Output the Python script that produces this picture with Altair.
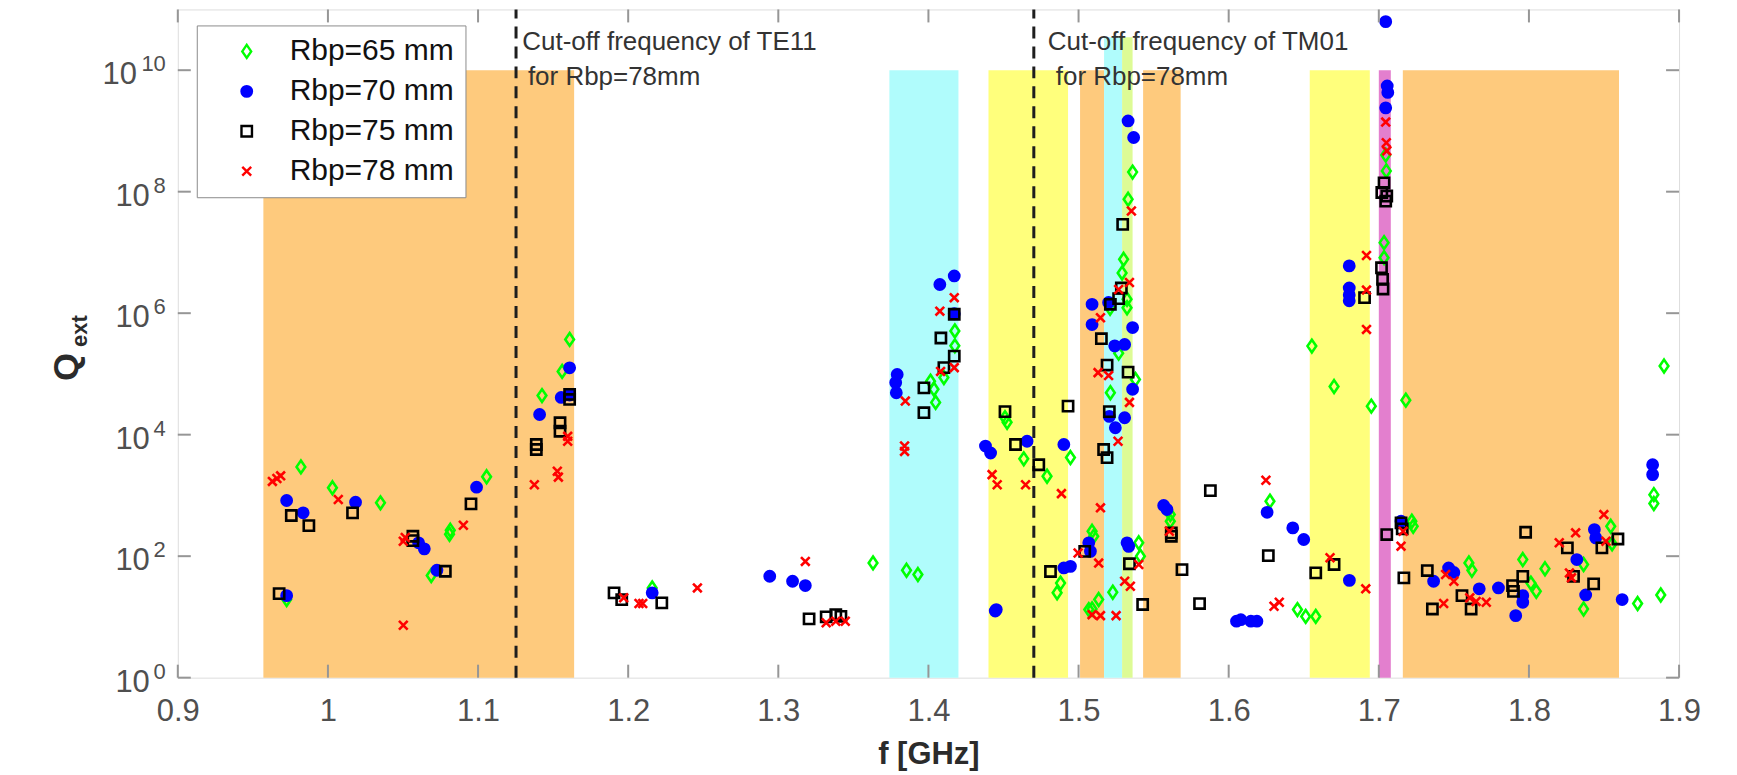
import altair as alt
import pandas as pd

# ---------------- data ----------------
series_names = ["Rbp=65 mm", "Rbp=70 mm", "Rbp=75 mm", "Rbp=78 mm"]

f65 = [0.982, 0.9725, 1.003, 1.035, 1.0688, 1.0815, 1.081, 1.1057, 1.1426, 1.156, 1.161,
       1.216, 1.3631, 1.3854, 1.393,
       1.4014, 1.4037, 1.4048, 1.4103, 1.4176, 1.4176,
       1.4524, 1.451, 1.4635, 1.479, 1.4946, 1.488, 1.4857,
       1.536, 1.533, 1.530, 1.529, 1.5323, 1.5323, 1.521, 1.5267, 1.5379, 1.5212,
       1.509, 1.5101, 1.5401, 1.5412, 1.5228, 1.5134, 1.5068, 1.509,
       1.5611, 1.5611,
       1.6275, 1.6458, 1.6513, 1.658,
       1.6554, 1.6702, 1.695, 1.718,
       1.7046, 1.705, 1.7035, 1.7035,
       1.722, 1.7229,
       1.760, 1.762, 1.7959, 1.8013, 1.8049, 1.8107, 1.8364, 1.8364, 1.8545, 1.8554,
       1.8724, 1.8878, 1.8832, 1.8832, 1.890]
q65 = [2950, 19.3, 1334, 755, 48, 267, 230, 2025, 4.4e4, 1.1e5, 3.7e5,
       30, 77.5, 58.6, 49.8,
       7.6e4, 5.6e4, 3.4e4, 8.7e4, 5.1e5, 2.9e5,
       1.6e4, 1.9e4, 4.0e3, 2.07e3, 4.2e3, 36, 25,
       2.1e8, 7.5e7, 7.7e6, 4.6e6, 1.23e6, 1.7e6, 1.2e6, 2.2e5, 8.1e4, 4.9e4,
       257, 213, 166, 100, 25.5, 19.3, 13.2, 13.5,
       484, 376,
       803, 13.2, 10.2, 10.2,
       2.87e5, 6.2e4, 2.95e4, 3.7e4,
       4e8, 2.2e8, 1.45e7, 8.2e6,
       376, 310,
       77.5, 58.6, 88, 36, 26.4, 62, 73, 13.5, 310, 160,
       16.6, 23, 1030, 735, 1.35e5]

f70 = [0.9725, 0.9835, 0.9725, 1.0184, 1.0604, 1.0642, 1.0726, 1.099,
       1.141, 1.1554, 1.161, 1.161,
       1.216, 1.2943, 1.3095, 1.318,
       1.3792, 1.3782, 1.3786, 1.4076, 1.4172, 1.4172,
       1.438, 1.4414, 1.4452, 1.4445, 1.4657, 1.4902, 1.4902, 1.4946,
       1.533, 1.5367, 1.509, 1.52, 1.509, 1.536, 1.5241, 1.5307, 1.536, 1.5205, 1.5245, 1.5307,
       1.5068, 1.5079, 1.5323, 1.5334,
       1.5567, 1.5589,
       1.6052, 1.6081, 1.6148, 1.6188,
       1.6256, 1.6427, 1.65, 1.6804,
       1.6803, 1.6803, 1.6803, 1.6803,
       1.7046, 1.7056, 1.706, 1.7046,
       1.7148,
       1.7365, 1.7465, 1.75, 1.7669, 1.7797, 1.7912, 1.7959, 1.7959, 1.8319, 1.8378,
       1.8436, 1.8445, 1.8621, 1.8824, 1.8824]
q70 = [824, 517, 22.4, 773, 166, 132, 58.6, 1367,
       2.15e4, 4.1e4, 4.5e4, 1.26e5,
       24.9, 46.7, 38.6, 32.8,
       9.8e4, 7.2e4, 4.9e4, 2.97e6, 4.1e6, 9.8e5,
       6.5e3, 5.0e3, 13.2, 12.5, 7.8e3, 6.9e3, 64, 68,
       1.46e9, 7.8e8, 1.4e6, 1.5e6, 6.5e5, 5.8e5, 2.9e5, 3.06e5, 5.6e4, 2e4, 1.3e4, 1.9e4,
       166, 120, 166, 145,
       682, 586,
       8.5, 9, 8.5, 8.5,
       527, 292, 188, 40,
       6e6, 2.6e6, 2e6, 1.6e6,
       6.3e10, 5.5e9, 4.3e9, 2.4e9,
       376,
       38.6, 64, 54, 29, 30, 10.5, 17.4, 22.4, 88, 23,
       274, 200, 19.3, 3.2e3, 2.2e3]

f75 = [0.9756, 0.9873, 0.9675, 1.0164, 1.0566, 1.0566, 1.0782, 1.0953,
       1.1388, 1.1388, 1.1546, 1.1546, 1.161, 1.161,
       1.1906, 1.1957, 1.2224, 1.3205, 1.3319, 1.3383, 1.3417,
       1.397, 1.397, 1.4083, 1.4172, 1.4172, 1.4103,
       1.451, 1.458, 1.4735, 1.493, 1.4813,
       1.5294, 1.5285, 1.5267, 1.5212, 1.5152, 1.519, 1.533, 1.5205, 1.5167, 1.519,
       1.5041, 1.5339,
       1.5618, 1.5618, 1.5878, 1.5689, 1.5806, 1.5427,
       1.6264, 1.658, 1.6702, 1.6905,
       1.7035, 1.702, 1.7053, 1.7046, 1.7018, 1.7025, 1.7028,
       1.7053, 1.7148, 1.7156,
       1.7167, 1.7323, 1.7357, 1.7554, 1.7615, 1.7891, 1.7897, 1.7959, 1.7978, 1.8256,
       1.8297, 1.8431, 1.8486, 1.8593]
q75 = [467, 319, 24.2, 517, 213, 180, 56.4, 727,
       6.9e3, 5.7e3, 1.57e4, 1.14e4, 4.6e4, 3.8e4,
       24.9, 19.3, 17, 9.3, 10, 10.9, 10.2,
       5.9e4, 2.3e4, 3.9e5, 9.6e5, 1.96e5, 1.27e5,
       2.4e4, 6.9e3, 3.2e3, 2.95e4, 56,
       2.9e7, 2.6e6, 1.74e6, 1.4e6, 3.8e5, 1.4e5, 1.07e5, 2.4e4, 5.7e3, 4.2e3,
       120, 75,
       242, 213, 1.2e3, 60, 16.6, 16,
       102, 53, 73, 1.8e6,
       1.4e8, 9.7e7, 8.5e7, 7e7, 5.6e6, 3.6e6, 2.5e6,
       227, 353, 282,
       44, 58, 13.5, 22.4, 13.5, 32.8, 26.4, 46.5, 248, 137,
       46.5, 35, 137, 192]

f78 = [0.963, 0.9685, 0.966, 1.0069, 1.0502, 1.0515, 1.0502, 1.0902,
       1.1375, 1.1528, 1.1535, 1.1597, 1.1597,
       1.197, 1.2072, 1.2097, 1.2461, 1.318, 1.3319, 1.3383, 1.3446,
       1.3841, 1.3841, 1.3846, 1.4076, 1.4172, 1.4172, 1.4081,
       1.4424, 1.4458, 1.4647, 1.4886,
       1.5352, 1.5339, 1.5267, 1.5146, 1.513, 1.52, 1.5339, 1.5263,
       1.5146, 1.4997, 1.5134, 1.5401, 1.5307, 1.5345, 1.509, 1.5146, 1.525,
       1.5605,
       1.6248, 1.6302, 1.6337, 1.6675, 1.6913,
       1.6918, 1.6918, 1.6918,
       1.7046, 1.705, 1.7053,
       1.7162, 1.7148,
       1.7432, 1.7445, 1.75, 1.7606, 1.7648, 1.7716, 1.8202, 1.8311, 1.827, 1.8283,
       1.8499, 1.8513]
q78 = [1700, 2100, 1900, 856, 176, 203, 7.3, 323,
       1.5e3, 2.5e3, 2.0e3, 9.4e3, 7.8e3,
       20.6, 16.6, 16.6, 30, 82, 8, 8.5, 8.5,
       6.5e3, 5.3e3, 3.57e4, 1.08e6, 1.8e6, 1.27e5, 1.1e5,
       2.2e3, 1.5e3, 1.5e3, 1.07e3,
       4.8e7, 3.2e6, 2.45e6, 8.4e5, 1.05e5, 9.4e4, 3.4e4, 7.8e3,
       625, 113, 77, 73, 38.6, 32, 10.9, 10.5, 10.5,
       257,
       1.78e3, 15, 17.4, 94, 29,
       8.9e6, 2.4e6, 5.4e5,
       1.4e9, 6.4e8, 4.7e8,
       257, 146,
       16.6, 50, 38.6, 20.6, 18, 17.4, 166, 242, 53, 44,
       484, 176]

# shaded frequency bands
band_f0 = [0.957, 1.374, 1.440, 1.501, 1.517, 1.529, 1.543, 1.654, 1.700, 1.716]
band_f1 = [1.164, 1.420, 1.493, 1.517, 1.529, 1.536, 1.568, 1.694, 1.708, 1.860]
band_top = [1e10, 1e10, 1e10, 1e10, 3.5e10, 3.5e10, 1e10, 1e10, 1e10, 1e10]
band_color = ["#FECA7D", "#B0FCFC", "#FFFF7C", "#FECA7D", "#B0FCFC", "#DDFB95",
              "#FECA7D", "#FFFF7C", "#E37FCE", "#FECA7D"]

# cut-off lines and their notes
cut_f = [1.1253, 1.4702]
ann_f = [1.1295, 1.1332, 1.4795, 1.4848]
ann_q = [10 ** 10.46, 10 ** 9.885, 10 ** 10.46, 10 ** 9.885]
ann_text = ["Cut-off frequency of TE11", "for Rbp=78mm",
            "Cut-off frequency of TM01", "for Rbp=78mm"]

# axis ticks
x_ticks = [0.9, 1.0, 1.1, 1.2, 1.3, 1.4, 1.5, 1.6, 1.7, 1.8, 1.9]
y_ticks = [1e0, 1e2, 1e4, 1e6, 1e8, 1e10]
y_exp = ["0", "2", "4", "6", "8", "10"]

# ---------------- build tables ----------------
for a, b in [(f65, q65), (f70, q70), (f75, q75), (f78, q78)]:
    if len(a) != len(b):
        raise ValueError(f"length mismatch {len(a)} vs {len(b)}")

rows = []
for name, fs, qs in zip(series_names, [f65, f70, f75, f78], [q65, q70, q75, q78]):
    for f, q in zip(fs, qs):
        rows.append({"f": f, "q": q, "series": name})
pts = pd.DataFrame(rows)

bands = pd.DataFrame({"f0": band_f0, "f1": band_f1, "qb": [1.0] * len(band_f0),
                      "qt": band_top, "c": band_color})
cuts = pd.DataFrame({"f": cut_f, "qb": [1.0] * len(cut_f), "qt": [1e11] * len(cut_f)})
anns = pd.DataFrame({"f": ann_f, "q": ann_q, "t": ann_text})
xt = pd.DataFrame({"f": x_ticks})
yt = pd.DataFrame({"q": y_ticks, "e": y_exp, "b": ["10"] * len(y_ticks)})
yt1 = yt[yt["e"].str.len() == 1]
yt2 = yt[yt["e"].str.len() == 2]

W, H = 1503, 669
FONT = "Liberation Sans"
GRAY = "#969696"
LABEL = "#4f4f4f"

xs = alt.Scale(domain=[0.9, 1.9], nice=False, zero=False)
ys = alt.Scale(type="log", domain=[1, 1e11], nice=False)
xaxis = alt.Axis(values=x_ticks, format="~g", domain=False, ticks=False, tickSize=0,
                 grid=False, labelFontSize=31, labelFont=FONT, labelColor=LABEL,
                 labelPadding=19, title="f [GHz]", titleFontSize=31, titleFont=FONT,
                 titleFontWeight="bold", titleColor="#2b2b2b", titlePadding=13,
                 labelFlush=False)


def X(field):
    return alt.X(f"{field}:Q", scale=xs, axis=xaxis)


def Y(field):
    return alt.Y(f"{field}:Q", scale=ys, axis=None)


band_layer = alt.Chart(bands).mark_rect(opacity=1).encode(
    x=X("f0"), x2="f1", y=Y("qb"), y2="qt", fill=alt.Fill("c:N", scale=None)
)

cut_layer = alt.Chart(cuts).mark_rule(color="#1e1e1e", strokeWidth=3,
                                      strokeDash=[12, 8]).encode(
    x=X("f"), y=Y("qb"), y2="qt"
)

diamond = "M0,-1.25L0.85,0L0,1.25L-0.85,0Z"
cross = "M-0.85,-0.85L0.85,0.85M-0.85,0.85L0.85,-0.85"
leg = alt.Legend(title=None, orient="none", legendX=19, legendY=16,
                 labelFontSize=30, labelFont=FONT, labelColor="#111111",
                 symbolSize=110, symbolStrokeWidth=2.4, padding=11, rowPadding=10,
                 labelOffset=28, symbolOffset=24, strokeColor="#8c8c8c",
                 fillColor="#ffffff", labelLimit=400)

point_layer = alt.Chart(pts).mark_point(size=105, opacity=1, strokeWidth=2.6).encode(
    x=X("f"), y=Y("q"),
    shape=alt.Shape("series:N", scale=alt.Scale(domain=series_names,
                    range=[diamond, "circle", "square", cross]), legend=leg),
    stroke=alt.Stroke("series:N", scale=alt.Scale(domain=series_names,
                      range=["#00FF00", "#0000FF", "#000000", "#FF0000"]), legend=leg),
    fill=alt.Fill("series:N", scale=alt.Scale(domain=series_names,
                  range=["transparent", "#0000FF", "transparent", "transparent"]), legend=leg),
)

ann_layer = alt.Chart(anns).mark_text(align="left", baseline="middle", fontSize=26,
                                      font=FONT, color="#333333").encode(
    x=X("f"), y=Y("q"), text="t:N"
)

TL = 13
tick_b = alt.Chart(xt).mark_rule(color=GRAY, strokeWidth=2).encode(
    x=X("f"), y=alt.value(H), y2=alt.value(H - TL))
tick_t = alt.Chart(xt).mark_rule(color=GRAY, strokeWidth=2).encode(
    x=X("f"), y=alt.value(0), y2=alt.value(TL))
tick_l = alt.Chart(yt).mark_rule(color=GRAY, strokeWidth=2).encode(
    y=Y("q"), x=alt.value(0), x2=alt.value(TL))
tick_r = alt.Chart(yt).mark_rule(color=GRAY, strokeWidth=2).encode(
    y=Y("q"), x=alt.value(W), x2=alt.value(W - TL))

base1 = alt.Chart(yt1).mark_text(align="right", baseline="middle", fontSize=31,
                                 font=FONT, color=LABEL, dy=5).encode(
    y=Y("q"), x=alt.value(-28), text="b:N")
base2 = alt.Chart(yt2).mark_text(align="right", baseline="middle", fontSize=31,
                                 font=FONT, color=LABEL, dy=5).encode(
    y=Y("q"), x=alt.value(-41), text="b:N")
expo = alt.Chart(yt).mark_text(align="right", baseline="alphabetic", fontSize=22,
                               font=FONT, color=LABEL, dy=1).encode(
    y=Y("q"), x=alt.value(-12), text="e:N")

q_title = alt.Chart(pd.DataFrame({"t": ["Q"]})).mark_text(
    angle=270, align="center", baseline="middle", fontSize=36, fontWeight="bold",
    font=FONT, color="#2b2b2b").encode(x=alt.value(-111), y=alt.value(358), text="t:N")
q_sub = alt.Chart(pd.DataFrame({"t": ["ext"]})).mark_text(
    angle=270, align="center", baseline="middle", fontSize=22, fontWeight="bold",
    font=FONT, color="#2b2b2b").encode(x=alt.value(-98), y=alt.value(322), text="t:N")

chart = alt.layer(
    band_layer, cut_layer, point_layer, ann_layer,
    tick_b, tick_t, tick_l, tick_r, base1, base2, expo, q_title, q_sub
).properties(
    width=W, height=H,
    autosize=alt.AutoSizeParams(type="none"),
    padding={"left": 170, "top": 1, "right": 50, "bottom": 95},
).configure_view(
    stroke=GRAY, strokeWidth=2.5
).configure(font=FONT)

chart.save("out.html", embed_options={"renderer": "svg", "actions": False})
